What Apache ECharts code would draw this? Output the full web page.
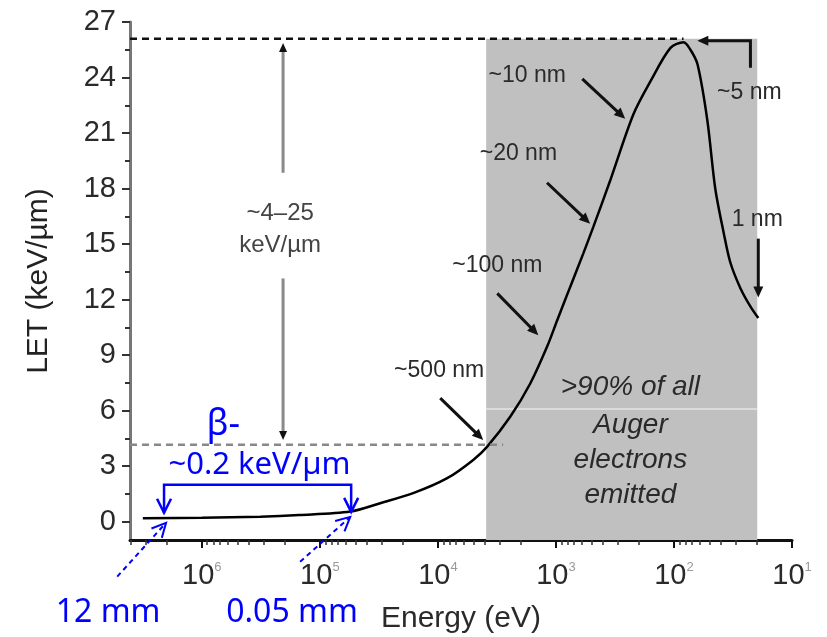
<!DOCTYPE html>
<html><head><meta charset="utf-8">
<script src="https://cdn.jsdelivr.net/npm/echarts@6/dist/echarts.min.js"></script>
<style>html,body{margin:0;padding:0;background:#fff}#c{width:827px;height:637px}</style>
</head><body><div id="c"></div>
<script>
// ---- data ----
const energy = [3.16e6, 1.0e6, 3.2e5, 1.5e5, 5.53e4, 3.08e4, 1.62e4, 8.34e3, 5.02e3, 3.82e3, 2.44e3, 1.65e3, 1.19e3, 975, 757, 587, 483, 347, 221, 158, 107, 83, 72.5, 63.1, 52.2, 44.7, 37.9, 33.3, 27.3, 22.4, 19.3];
const LET    = [0.18, 0.2, 0.26, 0.35, 0.54, 0.99, 1.53, 2.34, 3.33, 4.05, 5.66, 7.46, 9.44, 10.88, 12.68, 14.48, 15.91, 18.43, 22.0, 23.8, 25.6, 25.9, 25.5, 24.7, 21.7, 18.0, 15.6, 14.0, 12.6, 11.6, 11.0];
const xDecades = [1e6, 1e5, 1e4, 1e3, 1e2, 1e1];
const yMajor = [0, 3, 6, 9, 12, 15, 18, 21, 24, 27];
const yMinor = [1.5, 4.5, 7.5, 10.5, 13.5, 16.5, 19.5, 22.5, 25.5];
const xRange = [10, 4.06e6];
const yRange = [-1, 27];
const peakLevel = 26.1;
const lowLevel = 4.15;
const augerRange = [3.9e3, 19.7];
const augerText = ['>90% of all', 'Auger', 'electrons', 'emitted'];
const augerTextAt = [[234, 7.26], [234, 5.22], [234, 3.33], [234, 1.44]];
const rangeLabels = [
  {t: '~10 nm',  at: [1.75e3, 24.09], from: [598, 23.93],     to: [259, 21.77]},
  {t: '~20 nm',  at: [2.08e3, 19.88], from: [1.19e3, 18.31],  to: [513, 16.1]},
  {t: '~100 nm', at: [3.14e3, 13.84], from: [3.14e3, 12.33],  to: [1.41e3, 10.07]},
  {t: '~500 nm', at: [9.75e3, 8.18],  from: [9.55e3, 6.67],   to: [4.13e3, 4.41]},
  {t: '1 nm',    at: [19.7, 16.32],   from: [19.3, 15.29],    to: [19.3, 12.11]}
];
const fiveNm = {t: '~5 nm', at: [23, 23.17], path: [[22.5, 24.53], [22.5, 25.98], [63.4, 25.98]]};
const spanArrow = {x: 2.05e5, top: 25.87, topGap: 18.85, botGap: 13.14, bot: 4.41, text: ['~4\u201325', 'keV/\u00b5m'], textAt: [16.64, 14.91]};
const beta = {t: '\u03b2-', at: [6.58e5, 5.22]};
const betaLET = {t: '~0.2 keV/\u00b5m', at: [3.25e5, 3.06]};
const bracket = {left: 2.09e6, right: 5.43e4, y: 1.98, tipL: 0.47, tipR: 0.52};
const rangeArrows = [
  {t: '12 mm',   at: [6.22e6, -4.95], from: [5.21e6, -2.98], to: [2.01e6, -0.07]},
  {t: '0.05 mm', at: [1.72e5, -4.95], from: [1.47e5, -2.18], to: [5.53e4, 0.25]}
];

const xMinor = [];
[1e1, 1e2, 1e3, 1e4, 1e5, 1e6].forEach(d => { for (let k = 2; k <= 9; k++) { const v = d * k; if (v < xRange[1]) xMinor.push(v); } });

const FONT = '"Liberation Sans", Arial, sans-serif';
const BLUE_FONT = '"Noto Sans", sans-serif';
const chart = echarts.init(document.getElementById('c'));

chart.setOption({
  animation: false,
  grid: {left: 130, right: 35, top: 22, bottom: 97, containLabel: false, outerBoundsMode: 'none'},
  xAxis: [{
    type: 'log', logBase: 10, inverse: true, min: xRange[0], max: xRange[1], position: 'bottom',
    name: 'Energy (eV)', nameLocation: 'middle', nameGap: 64,
    nameTextStyle: {fontFamily: FONT, fontSize: 30, color: '#2a2a2a'},
    axisLine: {onZero: false, lineStyle: {color: '#111', width: 3}},
    axisTick: {customValues: xDecades, length: 8, lineStyle: {color: '#111', width: 2}},
    axisLabel: {
      customValues: xDecades, margin: 21,
      formatter: v => '{b|10}{s|' + Math.round(Math.log10(v)) + '}',
      rich: {b: {fontFamily: FONT, fontSize: 29, color: '#2a2a2a', lineHeight: 30},
             s: {fontFamily: FONT, fontSize: 13, color: '#999', verticalAlign: 'top', lineHeight: 30}}
    },
    splitLine: {show: false}
  }, {
    type: 'log', logBase: 10, inverse: true, min: xRange[0], max: xRange[1], position: 'bottom',
    axisLine: {show: false, onZero: false},
    axisTick: {customValues: xMinor, length: 5, lineStyle: {color: '#333', width: 1.5}},
    axisLabel: {show: false}, splitLine: {show: false}
  }],
  yAxis: [{
    type: 'value', min: yRange[0], max: yRange[1], position: 'left',
    name: 'LET (keV/\u00b5m)', nameLocation: 'middle', nameGap: 76, nameRotate: 90,
    nameTextStyle: {fontFamily: FONT, fontSize: 30, color: '#222'},
    axisLine: {show: true, onZero: false, lineStyle: {color: '#777', width: 3}},
    axisTick: {customValues: yMajor, length: 8, lineStyle: {color: '#333', width: 2}},
    axisLabel: {customValues: yMajor, fontFamily: FONT, fontSize: 29, color: '#2a2a2a', margin: 14},
    splitLine: {show: false}
  }, {
    type: 'value', min: yRange[0], max: yRange[1], position: 'left',
    axisLine: {show: false, onZero: false},
    axisTick: {customValues: yMinor, length: 5, lineStyle: {color: '#333', width: 2}},
    axisLabel: {show: false}, splitLine: {show: false}
  }],
  series: [{
    type: 'line', xAxisIndex: 0, yAxisIndex: 0, z: 5,
    data: energy.map((e, i) => [e, LET[i]]),
    smooth: 0.3, symbol: 'none', lineStyle: {color: '#000', width: 2.5}
  }, {
    type: 'line', xAxisIndex: 0, yAxisIndex: 0, z: 1, data: [],
    markArea: {silent: true, itemStyle: {color: '#c0c0c0'},
      data: [[{xAxis: augerRange[0], yAxis: yRange[0]}, {xAxis: augerRange[1], yAxis: peakLevel}]]}
  }]
});

// ---- annotations placed through the chart's own scales ----
const P = (e, v) => chart.convertToPixel({xAxisIndex: 0, yAxisIndex: 0}, [e, v]);
const els = [];
function poly(pts, style, z) { els.push({type: 'polyline', silent: true, z: z || 50, shape: {points: pts}, style: Object.assign({fill: null}, style)}); }
function head(a, b, len, hw, color, filled, lw) {
  const dx = b[0] - a[0], dy = b[1] - a[1], L = Math.hypot(dx, dy), ux = dx / L, uy = dy / L, px = -uy, py = ux;
  const p1 = [b[0] - ux * len + px * hw, b[1] - uy * len + py * hw];
  const p2 = [b[0] - ux * len - px * hw, b[1] - uy * len - py * hw];
  if (filled) els.push({type: 'polygon', silent: true, z: 60, shape: {points: [b, p1, p2]}, style: {fill: color}});
  else els.push({type: 'polyline', silent: true, z: 60, shape: {points: [p1, b, p2]}, style: {stroke: color, lineWidth: lw, fill: null}});
}
function txt(str, pt, s) {
  els.push({type: 'text', silent: true, z: 70, x: pt[0], y: pt[1],
    style: Object.assign({text: str, align: 'center', verticalAlign: 'middle', fill: '#2a2a2a', fontFamily: FONT, fontSize: 23}, s || {})});
}

// dashed reference levels
poly([P(xRange[1], peakLevel), P(83, peakLevel)], {stroke: '#111', lineWidth: 2.5, lineDash: [7, 5]}, 40);
poly([P(xRange[1], lowLevel), P(2.8e3, lowLevel)], {stroke: '#888', lineWidth: 2.5, lineDash: [7, 5]}, 40);
// faint scan line across shaded area
poly([P(augerRange[0], 6.08), P(augerRange[1], 6.08)], {stroke: 'rgba(255,255,255,0.85)', lineWidth: 1}, 3);

// vertical span arrow
{
  const a = P(spanArrow.x, spanArrow.top), g1 = P(spanArrow.x, spanArrow.topGap), g2 = P(spanArrow.x, spanArrow.botGap), b = P(spanArrow.x, spanArrow.bot);
  poly([[a[0], a[1] + 8], g1], {stroke: '#8a8a8a', lineWidth: 3});
  poly([g2, [b[0], b[1] - 8]], {stroke: '#8a8a8a', lineWidth: 3});
  head(g1, a, 9, 4, '#111', true);
  head(g2, b, 9, 4, '#111', true);
  txt(spanArrow.text[0], P(2.17e5, spanArrow.textAt[0]), {fontSize: 24, fill: '#444'});
  txt(spanArrow.text[1], P(2.17e5, spanArrow.textAt[1]), {fontSize: 24, fill: '#444'});
}

// range labels with black arrows
rangeLabels.forEach(r => {
  const a = P(r.from[0], r.from[1]), b = P(r.to[0], r.to[1]);
  const dx = b[0] - a[0], dy = b[1] - a[1], L = Math.hypot(dx, dy);
  poly([a, [b[0] - dx / L * 8, b[1] - dy / L * 8]], {stroke: '#111', lineWidth: 3});
  head(a, b, 11, 5, '#111', true);
  txt(r.t, P(r.at[0], r.at[1]));
});
{
  const pts = fiveNm.path.map(p => P(p[0], p[1]));
  poly([pts[0], pts[1], [pts[2][0] + 8, pts[2][1]]], {stroke: '#111', lineWidth: 3});
  head(pts[1], pts[2], 11, 5, '#111', true);
  txt(fiveNm.t, P(fiveNm.at[0], fiveNm.at[1]));
}

// italic text block
augerText.forEach((t, i) => txt(t, P(augerTextAt[i][0], augerTextAt[i][1]), {fontSize: 28, fontStyle: 'italic', fill: '#2a2a2a'}));

// blue annotations
const BLUE = '#0000ff';
txt(beta.t, P(beta.at[0], beta.at[1]), {fontFamily: BLUE_FONT, fontSize: 36, fill: BLUE});
txt(betaLET.t, P(betaLET.at[0], betaLET.at[1]), {fontFamily: BLUE_FONT, fontSize: 31, fill: BLUE});
{
  const l0 = P(bracket.left, bracket.y), r0 = P(bracket.right, bracket.y);
  const lt = P(bracket.left, bracket.tipL), rt = P(bracket.right, bracket.tipR);
  poly([lt, l0, r0, rt], {stroke: BLUE, lineWidth: 2.5});
  head(l0, lt, 14, 7, BLUE, false, 2.5);
  head(r0, rt, 14, 7, BLUE, false, 2.5);
}
rangeArrows.forEach(r => {
  const a = P(r.from[0], r.from[1]), b = P(r.to[0], r.to[1]);
  poly([a, b], {stroke: BLUE, lineWidth: 2, lineDash: [5, 4]});
  head(a, b, 14, 7, BLUE, false, 2);
  txt(r.t, P(r.at[0], r.at[1]), {fontFamily: BLUE_FONT, fontSize: 32, fill: BLUE});
});

chart.setOption({graphic: {elements: els}});
</script>
</body></html>
